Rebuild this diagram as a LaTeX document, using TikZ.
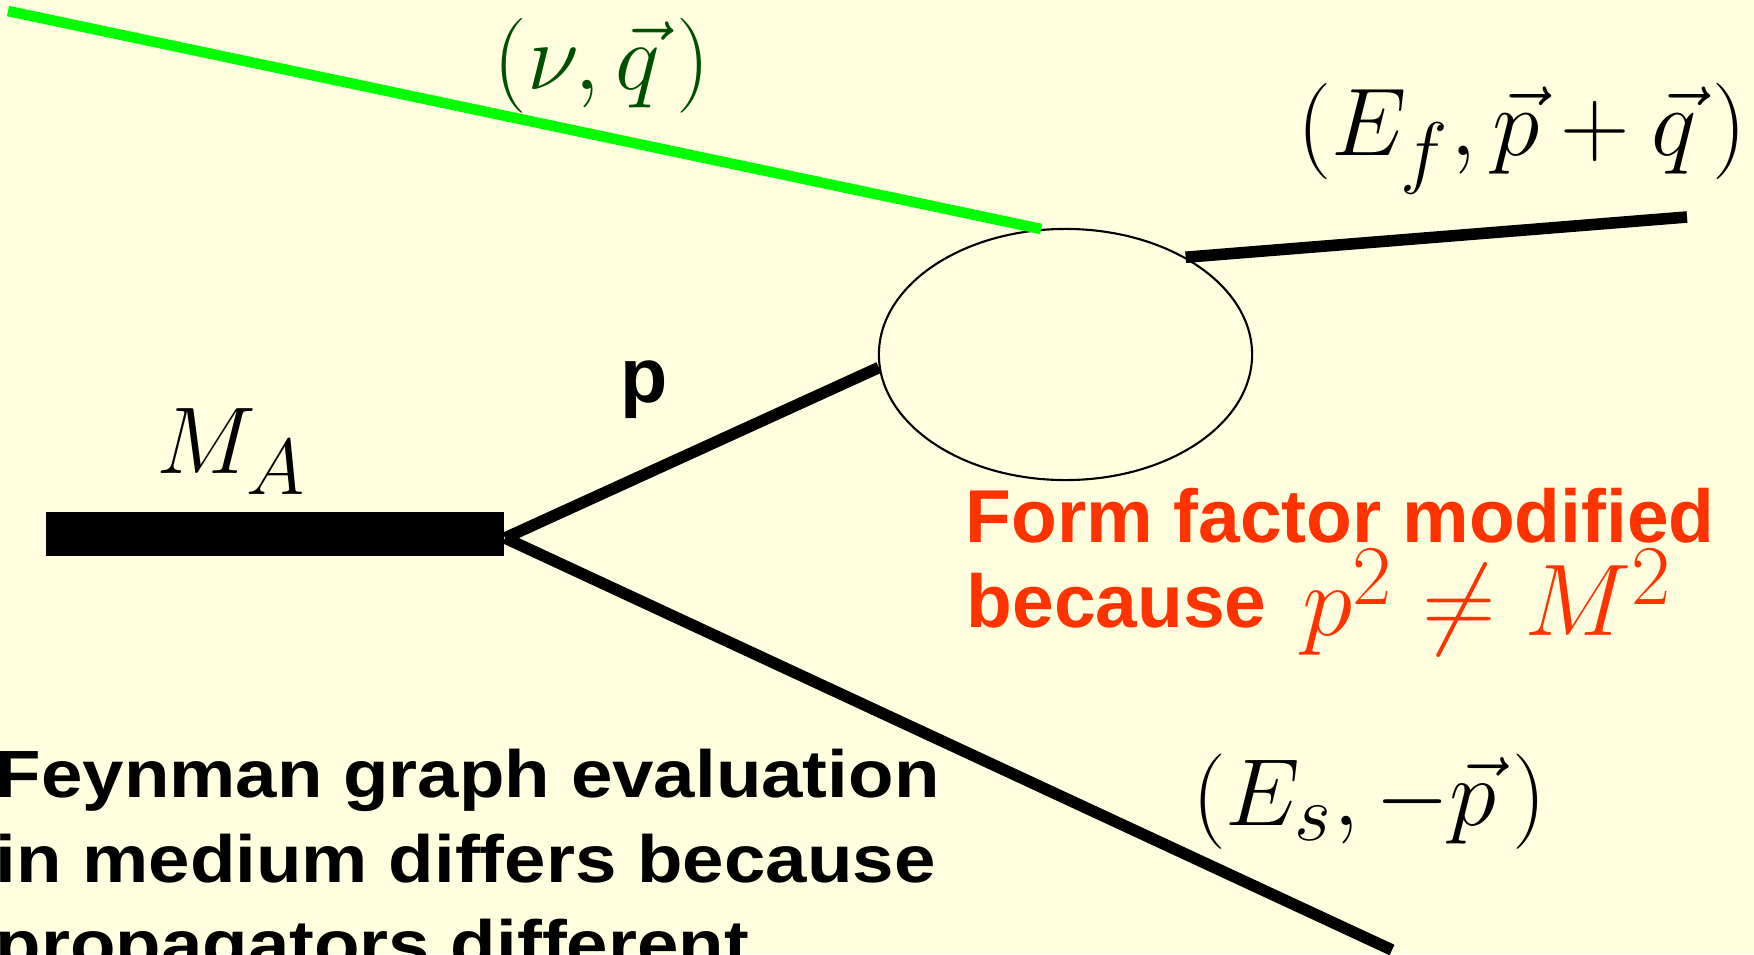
\documentclass[tikz,border=0pt]{standalone}
\usepackage{graphicx}
\usepackage{fontspec}
\newfontfamily\arialfont{Liberation Sans}
\usetikzlibrary{shapes.geometric}
\definecolor{bgyellow}{RGB}{255,255,224}
\definecolor{myred}{RGB}{255,51,0}
\definecolor{dkgreen}{RGB}{0,80,0}
\definecolor{brightgreen}{RGB}{0,255,0}
\newcommand{\bigmath}[2]{\scalebox{#1}{\fontsize{24.88}{30}\selectfont$#2$}}
\newcommand{\lowsq}{^{\lower1.6pt\hbox{$\scriptstyle 2$}}}
\tikzset{
  prop/.style={line width=3.3pt, black},
  photon/.style={line width=3.0pt, brightgreen},
  mathlbl/.style={inner sep=0pt},
  boldtxt/.style={inner sep=0pt, anchor=base west, font=\arialfont\bfseries\fontsize{21.3}{25}\selectfont},
  blacktxt/.style={inner sep=0pt, anchor=base west, font=\arialfont\bfseries\fontsize{19}{23}\selectfont}
}
\begin{document}
\begin{tikzpicture}[x=0.01cm, y=-0.01cm]
\useasboundingbox (0,0) rectangle (1754,954);
\clip (0,0) rectangle (1754,954);
\fill[bgyellow] (0,0) rectangle (1754,954);

% blob
\node[draw, ellipse, line width=0.6pt, minimum width=3.73cm, minimum height=2.51cm, inner sep=0pt] (blob) at (1065.5,354.5) {};

% nucleus bar
\node[fill=black, minimum width=4.58cm, minimum height=0.44cm, inner sep=0pt, anchor=east] (bar) at (505,534) {};
\coordinate (vtx) at (505,538);

% free ends
\coordinate (gstart) at (8,11);
\coordinate (fend) at (1687,217);
\coordinate (send) at (1392,950);

% lines
\draw[photon] (gstart) -- (blob.101.5);
\draw[prop] (blob.39) -- (fend);
\draw[prop] (vtx) -- (blob.184);
\draw[prop] (vtx) -- (send);

% labels
\node[mathlbl, text=dkgreen] (nuq) at (602,66) {\bigmath{1.085}{(\nu,\vec{q}\,)}};
\node[mathlbl] (efl) at (1522,139) {\bigmath{1.1}{(E_f,\vec{p}+\vec{q}\,)}};
\node[mathlbl] (esl) at (1369,802) {\bigmath{1.09}{(E_s,-\vec{p}\,)}};
\node[mathlbl, anchor=base west] (mal) at (156,473) {\bigmath{1.085}{M_A}};
\node[boldtxt, font=\arialfont\bfseries\fontsize{22}{26}\selectfont] (plbl) at (620,402) {p};

\node[boldtxt, text=myred] (ff1) at (965,542) {Form factor modified};
\node[boldtxt, text=myred] (ff2) at (966,627) {because};
\node[inner sep=0pt, anchor=base west, text=myred] (pm) at (1302,635) {\bigmath{1.166}{p\lowsq\neq M\lowsq}};

\node[blacktxt] (fy1) at (-5,797) {\scalebox{1.115}[1]{Feynman graph evaluation}};
\node[blacktxt] (fy2) at (-5,882) {\scalebox{1.115}[1]{in medium differs because}};
\node[blacktxt] (fy3) at (-5,967) {\scalebox{1.115}[1]{propagators different}};
\end{tikzpicture}
\end{document}
